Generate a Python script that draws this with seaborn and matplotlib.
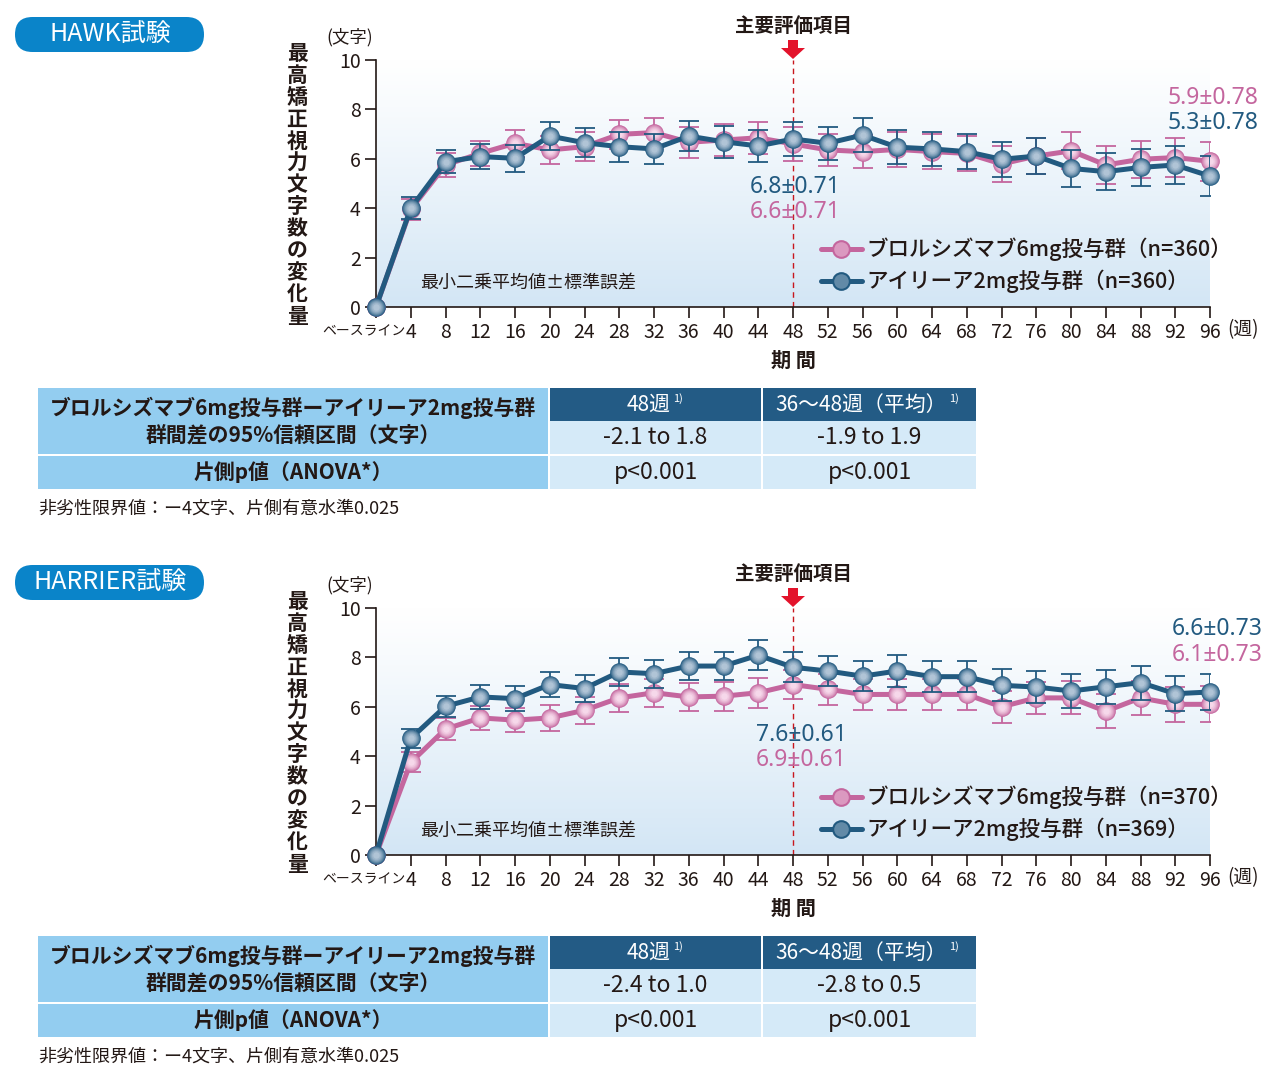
import numpy as np
import pandas as pd
import matplotlib
matplotlib.use('Agg')
import matplotlib.pyplot as plt
import seaborn as sns
from matplotlib.colors import LinearSegmentedColormap, to_rgb
from matplotlib.patches import FancyBboxPatch, Rectangle, Polygon
from matplotlib.transforms import ScaledTranslation

# ---------------- data ----------------
weeks = [0, 4, 8, 12, 16, 20, 24, 28, 32, 36, 40, 44, 48, 52, 56, 60, 64, 68, 72, 76, 80, 84, 88, 92, 96]
week_labels = ['ベースライン'] + [str(w) for w in weeks[1:]]
y_ticks = [0, 2, 4, 6, 8, 10]

hawk_bro = [0, 3.95, 5.75, 6.22, 6.63, 6.36, 6.49, 6.99, 7.06, 6.67, 6.76, 6.85, 6.6,
            6.36, 6.29, 6.38, 6.29, 6.22, 5.79, 6.11, 6.32, 5.75, 5.98, 6.05, 5.9]
hawk_afl = [0, 4.0, 5.88, 6.09, 6.02, 6.92, 6.65, 6.49, 6.40, 6.92, 6.69, 6.52, 6.8,
            6.63, 6.96, 6.47, 6.40, 6.29, 5.98, 6.11, 5.61, 5.48, 5.65, 5.75, 5.3]
hawk_err = [0.44, 0.47, 0.5, 0.55, 0.58, 0.58, 0.6, 0.6, 0.62, 0.65, 0.65, 0.67,
            0.66, 0.68, 0.7, 0.7, 0.7, 0.72, 0.74, 0.75, 0.76, 0.76, 0.78, 0.8]

harrier_bro = [0, 3.75, 5.1, 5.55, 5.46, 5.55, 5.86, 6.36, 6.57, 6.40, 6.43, 6.57, 6.9,
               6.71, 6.50, 6.50, 6.50, 6.50, 6.0, 6.36, 6.36, 5.82, 6.36, 6.1, 6.1]
harrier_afl = [0, 4.72, 6.02, 6.40, 6.33, 6.9, 6.74, 7.41, 7.34, 7.65, 7.65, 8.09, 7.6,
               7.45, 7.24, 7.45, 7.22, 7.22, 6.87, 6.80, 6.64, 6.81, 6.98, 6.53, 6.6]
harrier_err = [0.4, 0.43, 0.47, 0.5, 0.52, 0.55, 0.57, 0.57, 0.58, 0.58, 0.6, 0.6,
               0.62, 0.62, 0.63, 0.63, 0.64, 0.65, 0.66, 0.67, 0.68, 0.69, 0.71, 0.73]

trial_names = ['HAWK試験', 'HARRIER試験']
bro_labels = ['ブロルシズマブ6mg投与群（n=360）', 'ブロルシズマブ6mg投与群（n=370）']
afl_labels = ['アイリーア2mg投与群（n=360）', 'アイリーア2mg投与群（n=369）']
ann48_afl = ['6.8±0.71', '7.6±0.61']
ann48_bro = ['6.6±0.71', '6.9±0.61']
annend_afl = ['5.3±0.78', '6.6±0.73']
annend_bro = ['5.9±0.78', '6.1±0.73']
table_headers = ['48週', '36〜48週（平均）']
table_ci = [['-2.1 to 1.8', '-1.9 to 1.9'], ['-2.4 to 1.0', '-2.8 to 0.5']]
table_p = [['p<0.001', 'p<0.001'], ['p<0.001', 'p<0.001']]
row_label1 = 'ブロルシズマブ6mg投与群ーアイリーア2mg投与群\n群間差の95%信頼区間（文字）'
row_label2 = '片側p値（ANOVA*）'
footnote = '非劣性限界値：ー4文字、片側有意水準0.025'

# ---------------- style ----------------
sns.set_style('white')
plt.rcParams['font.family'] = ['Noto Sans CJK JP', 'DejaVu Sans']
LATIN = ['Noto Sans', 'DejaVu Sans']
TXT = '#231815'
PINK = '#c4669e'
PINK_L = '#f6d8ea'
BLUE = '#225a80'
BLUE_L = '#b0c4d6'
RED = '#e3132b'

fig = plt.figure(figsize=(12.8, 10.9), dpi=100)
ov = fig.add_axes([0, 0, 1, 1], zorder=10)
ov.set_xlim(0, 1280)
ov.set_ylim(1090, 0)
ov.axis('off')

grad_cmap = LinearSegmentedColormap.from_list('g', ['#ffffff', '#d3e6f5'])


def mix(c1, c2, t):
    a, b = np.array(to_rgb(c1)), np.array(to_rgb(c2))
    return tuple(a + (b - a) * t)


def spheres(ax, x, y, base, light, s, z):
    fr = np.linspace(1.0, 0.12, 8)
    for i, f in enumerate(fr):
        c = mix(base, light, (i / (len(fr) - 1)) ** 0.9)
        sns.scatterplot(x=x, y=y, s=s * f, color=c, linewidth=0, zorder=z + i * 0.01,
                        legend=False, ax=ax, clip_on=False)


def panel(k, bro, afl, err):
    dy = 548 * k
    top, bot = 60 + dy, 307 + dy
    ax = fig.add_axes([376 / 1280, 1 - bot / 1090, 834 / 1280, (bot - top) / 1090], zorder=1)
    ax.set_facecolor('none')
    g = np.linspace(0, 1, 256) ** 1.1
    ax.imshow(g.reshape(-1, 1), extent=[0, 96, 0, 10], aspect='auto', cmap=grad_cmap,
              origin='upper', zorder=0)
    ax.axvline(48, color='#c8161d', lw=1.0, ls=(0, (4, 3)), zorder=1)

    sns.lineplot(x=weeks, y=bro, color=PINK, lw=3.6, marker='o', markersize=12,
                 markeredgewidth=0, label=bro_labels[k], ax=ax, zorder=3, clip_on=False)
    ax.errorbar(weeks[1:], bro[1:], yerr=err, fmt='none', ecolor=PINK, elinewidth=1.3,
                capsize=7, capthick=1.3, zorder=3.5)
    spheres(ax, weeks, bro, PINK, PINK_L, 180, 4)

    sns.lineplot(x=weeks, y=afl, color=BLUE, lw=3.6, marker='o', markersize=12,
                 markeredgewidth=0, label=afl_labels[k], ax=ax, zorder=5, clip_on=False)
    ax.errorbar(weeks[1:], afl[1:], yerr=err, fmt='none', ecolor=BLUE, elinewidth=1.3,
                capsize=7, capthick=1.3, zorder=5.5)
    spheres(ax, weeks, afl, BLUE, BLUE_L, 180, 6)

    ax.set_xlim(0, 96)
    ax.set_ylim(0, 10)
    ax.set_xticks(weeks)
    ax.set_xticklabels(week_labels)
    ax.set_yticks(y_ticks)
    ax.set_yticklabels([str(v) for v in y_ticks])
    ax.set_xlabel('')
    ax.set_ylabel('')
    for s in ['top', 'right']:
        ax.spines[s].set_visible(False)
    for s in ['left', 'bottom']:
        ax.spines[s].set_color(TXT)
        ax.spines[s].set_linewidth(1.2)
        ax.spines[s].set_zorder(2)
    ax.tick_params(axis='both', direction='out', length=8, width=1.2, color=TXT,
                   labelcolor=TXT, labelsize=14, pad=3, left=True, bottom=True)
    t0 = ax.xaxis.get_major_ticks()[0].label1
    t0.set_fontsize(10)
    t0.set_transform(t0.get_transform() + ScaledTranslation(-0.12, -0.02, fig.dpi_scale_trans))

    leg = ax.legend(loc='center left', bbox_to_anchor=(0.523, 0.168), frameon=False,
                    fontsize=15.5, handlelength=1.9, handletextpad=0.2, labelspacing=0.38,
                    borderaxespad=0)
    for h, (b, l) in zip(leg.legend_handles, [(PINK, PINK_L), (BLUE, BLUE_L)]):
        h.set_markerfacecolor(mix(b, l, 0.45))
        h.set_markeredgecolor(b)
        h.set_markeredgewidth(1.5)
    for t in leg.get_texts():
        t.set_color(TXT)
        t.set_fontweight('medium')
    leg.set_zorder(9)

    # ---- overlay texts ----
    ov.add_patch(FancyBboxPatch((15, 17 + dy), 189, 35,
                                boxstyle='round,pad=0,rounding_size=17.5',
                                fc='#0a84c9', ec='none'))
    ov.text(110, 35 + dy, trial_names[k], color='white', fontsize=18,
            ha='center', va='center')
    ov.text(297, 185 + dy, '\n'.join('最高矯正視力文字数の変化量'), fontsize=15,
            fontweight='bold', ha='center', va='center', linespacing=1.05, color=TXT)
    ov.text(350, 37 + dy, '(文字)', fontsize=12.5, ha='center', va='center', color=TXT)
    ov.text(1243, 330 + dy, '(週)', fontsize=13.5, ha='center', va='center', color=TXT)
    ov.text(793, 360 + dy, '期 間', fontsize=14.5, fontweight='bold', ha='center',
            va='center', color=TXT)
    ov.text(793, 26 + dy, '主要評価項目', fontsize=14, fontweight='bold',
            ha='center', va='center', color=TXT)
    ov.add_patch(Polygon([(788, 40 + dy), (798, 40 + dy), (798, 48 + dy), (805, 48 + dy),
                          (793, 59 + dy), (781, 48 + dy), (788, 48 + dy)],
                         closed=True, fc=RED, ec='none'))
    ov.text(420, 283 + dy, '最小二乗平均値±標準誤差', fontsize=13, ha='left',
            va='center', color=TXT)
    cx48 = 795 + 6 * k
    kw = dict(fontsize=16.5, ha='center', va='center', family=LATIN)
    ov.text(cx48, 187 + dy, ann48_afl[k], color=BLUE, **kw)
    ov.text(cx48, 212 + dy, ann48_bro[k], color=PINK, **kw)
    if k == 0:
        ov.text(1213, 98 + dy, annend_bro[k], color=PINK, **kw)
        ov.text(1213, 123 + dy, annend_afl[k], color=BLUE, **kw)
    else:
        ov.text(1217, 629 - 548, annend_afl[k], color=BLUE, **{**kw}) if False else None
        ov.text(1217, 81 + dy, annend_afl[k], color=BLUE, **kw)
        ov.text(1217, 107 + dy, annend_bro[k], color=PINK, **kw)

    # ---- table ----
    LC, HC, VC = '#93cdf0', '#235b85', '#d5eaf8'
    ov.add_patch(Rectangle((38, 388 + dy), 510, 66, fc=LC, ec='none', zorder=0))
    ov.add_patch(Rectangle((38, 456 + dy), 510, 33, fc=LC, ec='none', zorder=0))
    cols = [(550, 211), (763, 213)]
    for j, (x0, w) in enumerate(cols):
        ov.add_patch(Rectangle((x0, 388 + dy), w, 33, fc=HC, ec='none', zorder=0))
        ov.add_patch(Rectangle((x0, 421 + dy), w, 33, fc=VC, ec='none', zorder=0))
        ov.add_patch(Rectangle((x0, 456 + dy), w, 33, fc=VC, ec='none', zorder=0))
        xc = x0 + w / 2
        ov.text(xc, 438 + dy, table_ci[k][j], fontsize=16.5, ha='center', va='center', color=TXT)
        ov.text(xc, 472 + dy, table_p[k][j], fontsize=16.5, ha='center', va='center', color=TXT)
    ov.text(671, 405 + dy, table_headers[0], fontsize=15, color='white', ha='right', va='center')
    ov.text(673, 399 + dy, '1)', fontsize=8, color='white', ha='left', va='center')
    ov.text(947, 405 + dy, table_headers[1], fontsize=15, color='white', ha='right', va='center')
    ov.text(949, 399 + dy, '1)', fontsize=8, color='white', ha='left', va='center')
    ov.text(293, 421 + dy, row_label1, fontsize=15, fontweight='bold', ha='center',
            va='center', color=TXT, linespacing=1.35)
    ov.text(293, 472 + dy, row_label2, fontsize=15, fontweight='bold', ha='center',
            va='center', color=TXT)
    ov.text(38, 509 + dy, footnote, fontsize=13, ha='left', va='center', color=TXT)


panel(0, hawk_bro, hawk_afl, hawk_err)
panel(1, harrier_bro, harrier_afl, harrier_err)

fig.savefig('out.png', dpi=100)
